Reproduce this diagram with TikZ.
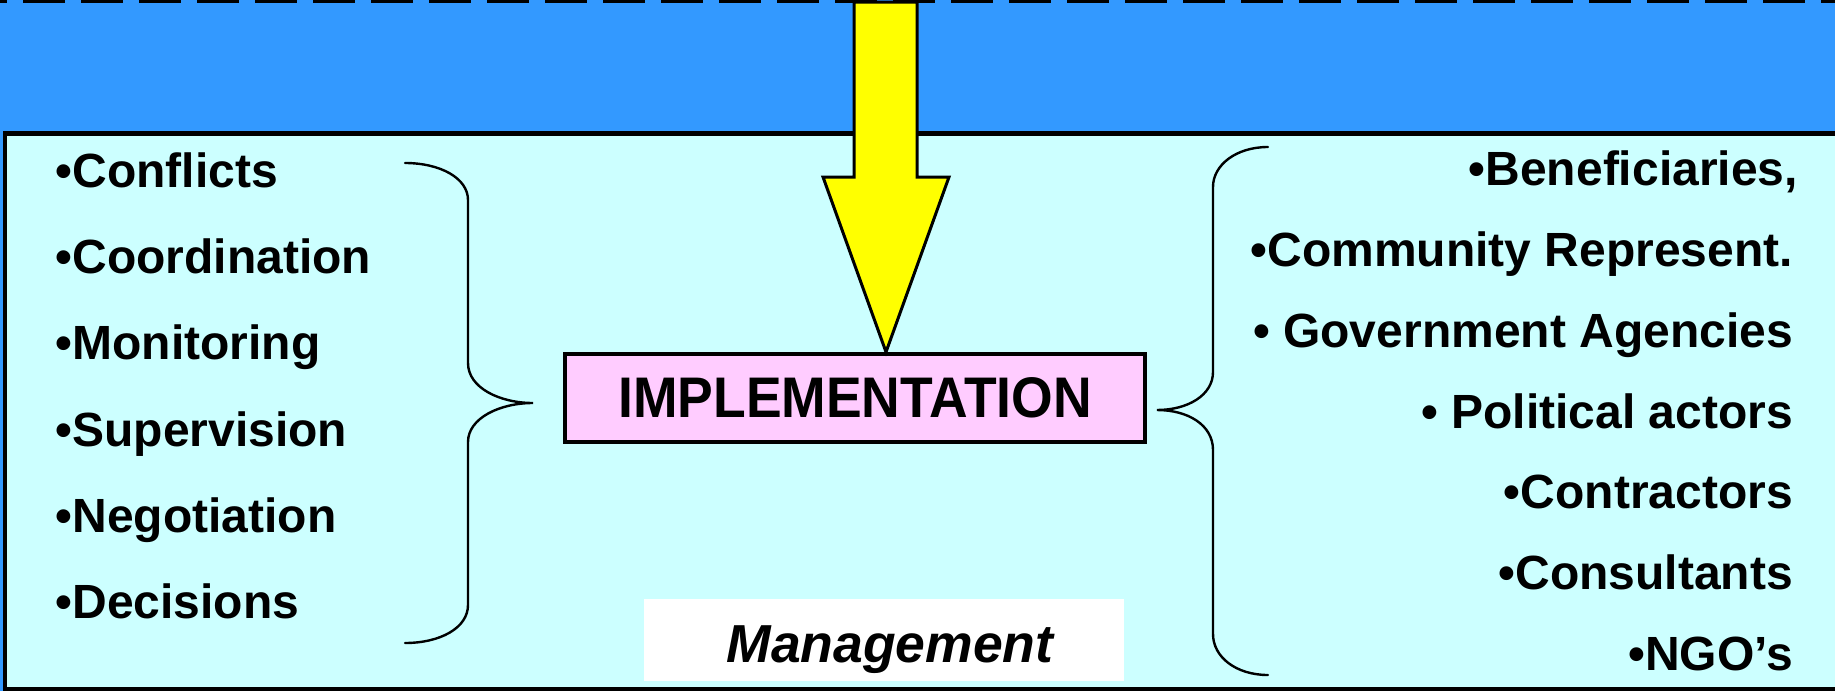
\documentclass[tikz,border=0pt]{standalone}
\usepackage{fontspec}
\setmainfont{Liberation Sans}
\definecolor{bandblue}{HTML}{3399FF}
\definecolor{panelcyan}{HTML}{CCFFFF}
\definecolor{boxpink}{HTML}{FFCCFF}
\definecolor{arrowyellow}{HTML}{FFFF00}
\begin{document}
\begin{tikzpicture}[x=1pt,y=-1pt,
  listtext/.style={font=\fontsize{48}{58}\selectfont\bfseries, inner sep=0pt},
  bracepath/.style={line width=2.4pt, line cap=round},
  implbox/.style={draw, line width=4.5pt, fill=boxpink, minimum width=580pt, minimum height=88pt, inner sep=0pt, font=\fontsize{53.5}{60}\selectfont\bfseries},
  mgmtbox/.style={fill=white, minimum width=480pt, minimum height=82pt, inner sep=0pt},
  mgmttext/.style={font=\fontsize{53.5}{60}\selectfont\bfseries\itshape, inner sep=0pt},
  bigarrow/.style={draw, line width=3pt, fill=arrowyellow, line join=miter}]
\useasboundingbox (0,0) rectangle (1835,691);
\clip (0,0) rectangle (1835,691);
% background band and panel
\fill[bandblue] (0,0) rectangle (1835,691);
\draw[line width=3pt, dash pattern=on 42pt off 16pt, dash phase=33pt] (-2,1.5) -- (1840,1.5);
\draw[line width=4.5pt, fill=panelcyan] (5,133.5) rectangle (1860,689);
% central box
\node[implbox] (impl) at (855,398) {\scalebox{1}[1.07]{IMPLEMENTATION}};
% management label
\node[mgmtbox] (mgmt) at (884,640) {};
\node[mgmttext, anchor=base] (mgmtlabel) at (890,662) {Management};
% yellow arrow
\coordinate (tip) at (886,352);
\draw[bigarrow] (854,2) -- (917,2) -- (917,177) -- (949,177) -- (tip) -- (823,177) -- (854,177) -- cycle;
% left list
\node[listtext, anchor=base west] (l1) at (55.5,187) {•Conflicts};
\node[listtext, anchor=base west] (l2) at (55.5,273) {•Coordination};
\node[listtext, anchor=base west] (l3) at (55.5,359) {•Monitoring};
\node[listtext, anchor=base west] (l4) at (55.5,446) {•Supervision};
\node[listtext, anchor=base west] (l5) at (55.5,532) {•Negotiation};
\node[listtext, anchor=base west] (l6) at (55.5,618) {•Decisions};
% right list
\node[listtext, anchor=base east] (r1) at (1798,185) {•Beneficiaries,};
\node[listtext, anchor=base east] (r2) at (1793,266) {•Community Represent.};
\node[listtext, anchor=base east] (r3) at (1793,347) {• Government Agencies};
\node[listtext, anchor=base east] (r4) at (1793,428) {• Political actors};
\node[listtext, anchor=base east] (r5) at (1793,508) {•Contractors};
\node[listtext, anchor=base east] (r6) at (1793,589) {•Consultants};
\node[listtext, anchor=base east] (r7) at (1793,670) {•NGO’s};
% left brace
\coordinate (ltip) at (533,403);
\draw[bracepath] (405,163) .. controls (440,163) and (468,178) .. (468,200) -- (468,363)
  .. controls (468,388) and (500,403) .. (ltip)
  .. controls (500,403) and (468,418) .. (468,442) -- (468,605)
  .. controls (468,628) and (440,643) .. (405,643);
% right brace
\coordinate (rtip) at (1157,410);
\draw[bracepath] (1268,147) .. controls (1236,147) and (1213,165) .. (1213,187) -- (1213,372)
  .. controls (1213,395) and (1188,410) .. (rtip)
  .. controls (1188,410) and (1213,425) .. (1213,450) -- (1213,634)
  .. controls (1213,657) and (1236,675) .. (1268,675);
\end{tikzpicture}
\end{document}
